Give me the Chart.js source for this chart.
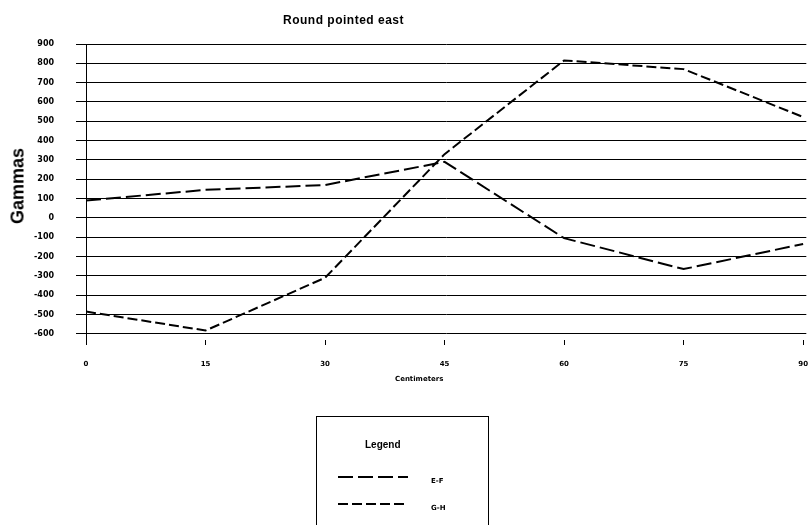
<!DOCTYPE html>
<html><head><meta charset="utf-8">
<script src="https://cdn.jsdelivr.net/npm/chart.js@4.4.0/dist/chart.umd.min.js"></script>
<style>
html,body{margin:0;padding:0;background:#fff;}
#wrap{position:relative;width:808px;height:525px;overflow:hidden;background:#fff;}
#c{position:absolute;left:0;top:0;}
.t{position:absolute;white-space:nowrap;color:#000;line-height:1;}
#ytitle{left:18px;top:186px;transform:translate(-50%,-50%) rotate(-90deg);font:bold 18px 'Liberation Sans',Arial,sans-serif;}
#legend{position:absolute;left:316px;top:416px;width:173px;height:140px;border:1px solid #000;box-sizing:border-box;}
</style></head><body>
<div id="wrap">
<canvas id="c" width="808" height="525"></canvas>
<div class="t" id="title" style="left:283px;top:13px;font:bold 12px 'Liberation Sans',Arial,sans-serif;letter-spacing:0.5px;"></div>
<div class="t" id="ytitle"></div>
<div class="t" id="xtitle" style="left:395px;top:375px;font:bold 7px 'DejaVu Sans',sans-serif;"></div>
<div id="legend"></div>
</div>
<script>
const chartTitle = 'Round pointed east';
const xAxisTitle = 'Centimeters';
const yAxisTitle = 'Gammas';
const xValues = [0, 15, 30, 45, 60, 75, 90];
const seriesNames = ['E-F', 'G-H'];
const efValues = [90, 145, 170, 290, -105, -265, -135];
const ghValues = [-485, -583, -310, 330, 815, 770, 522];
const xTicks = [0, 15, 30, 45, 60, 75, 90];
const yTicks = [900, 800, 700, 600, 500, 400, 300, 200, 100, 0, -100, -200, -300, -400, -500, -600];

const dashes = [[15, 5], [10, 4]];
const seriesValues = [efValues, ghValues];

const datasets = seriesNames.map((name, i) => ({
  label: name,
  data: xValues.map((x, j) => ({x: x, y: seriesValues[i][j]})),
  borderColor: '#000',
  borderWidth: 2,
  borderDash: dashes[i],
  borderCapStyle: 'butt',
  pointRadius: 0,
  tension: 0,
  fill: false
}));

const tickFontY = {family: 'DejaVu Sans', weight: 'bold', size: 8};
const tickFontX = {family: 'DejaVu Sans', weight: 'bold', size: 7};

new Chart(document.getElementById('c'), {
  type: 'line',
  data: {datasets},
  options: {
    responsive: false,
    animation: false,
    events: [],
    layout: {padding: {left: 12, top: 44, right: 0, bottom: 157}},
    plugins: {legend: {display: false}, tooltip: {enabled: false}, title: {display: false}},
    scales: {
      x: {
        type: 'linear', min: 0, max: 90.4,
        afterBuildTicks: axis => { axis.ticks = xTicks.map(v => ({value: v})); },
        grid: {drawOnChartArea: false, drawTicks: true, tickLength: 20, color: '#000', lineWidth: 1,
               tickBorderDash: [5, 60]},
        border: {display: false},
        ticks: {font: tickFontX, color: '#000', padding: 0, maxRotation: 0, autoSkip: false}
      },
      y: {
        type: 'linear', min: -630, max: 900,
        afterBuildTicks: axis => { axis.ticks = yTicks.map(v => ({value: v})); },
        grid: {color: '#000', lineWidth: 1, tickLength: 10, drawTicks: true},
        border: {display: true, color: '#000', width: 1},
        ticks: {font: tickFontY, color: '#000', padding: 22, autoSkip: false},
        title: {display: false}
      }
    }
  }
});

document.getElementById('title').textContent = chartTitle;
document.getElementById('xtitle').textContent = xAxisTitle;
document.getElementById('ytitle').textContent = yAxisTitle;

// legend box built from series names and dash styles
const lg = document.getElementById('legend');
let html = '<div class="t" style="left:48px;top:22px;font:bold 10px \'Liberation Sans\',Arial,sans-serif;">Legend</div>';
seriesNames.forEach((name, i) => {
  const y = 60 + i * 27;
  html += '<svg style="position:absolute;left:21px;top:' + (y - 2) + 'px" width="70" height="4">' +
    '<line x1="0" y1="2" x2="70" y2="2" stroke="#000" stroke-width="2" stroke-dasharray="' + dashes[i].join(',') + '"/></svg>';
  html += '<div class="t" style="left:114px;top:' + (y) + 'px;font:bold 7px \'DejaVu Sans\',sans-serif;">' + name + '</div>';
});
lg.innerHTML = html;
</script>
</body></html>
